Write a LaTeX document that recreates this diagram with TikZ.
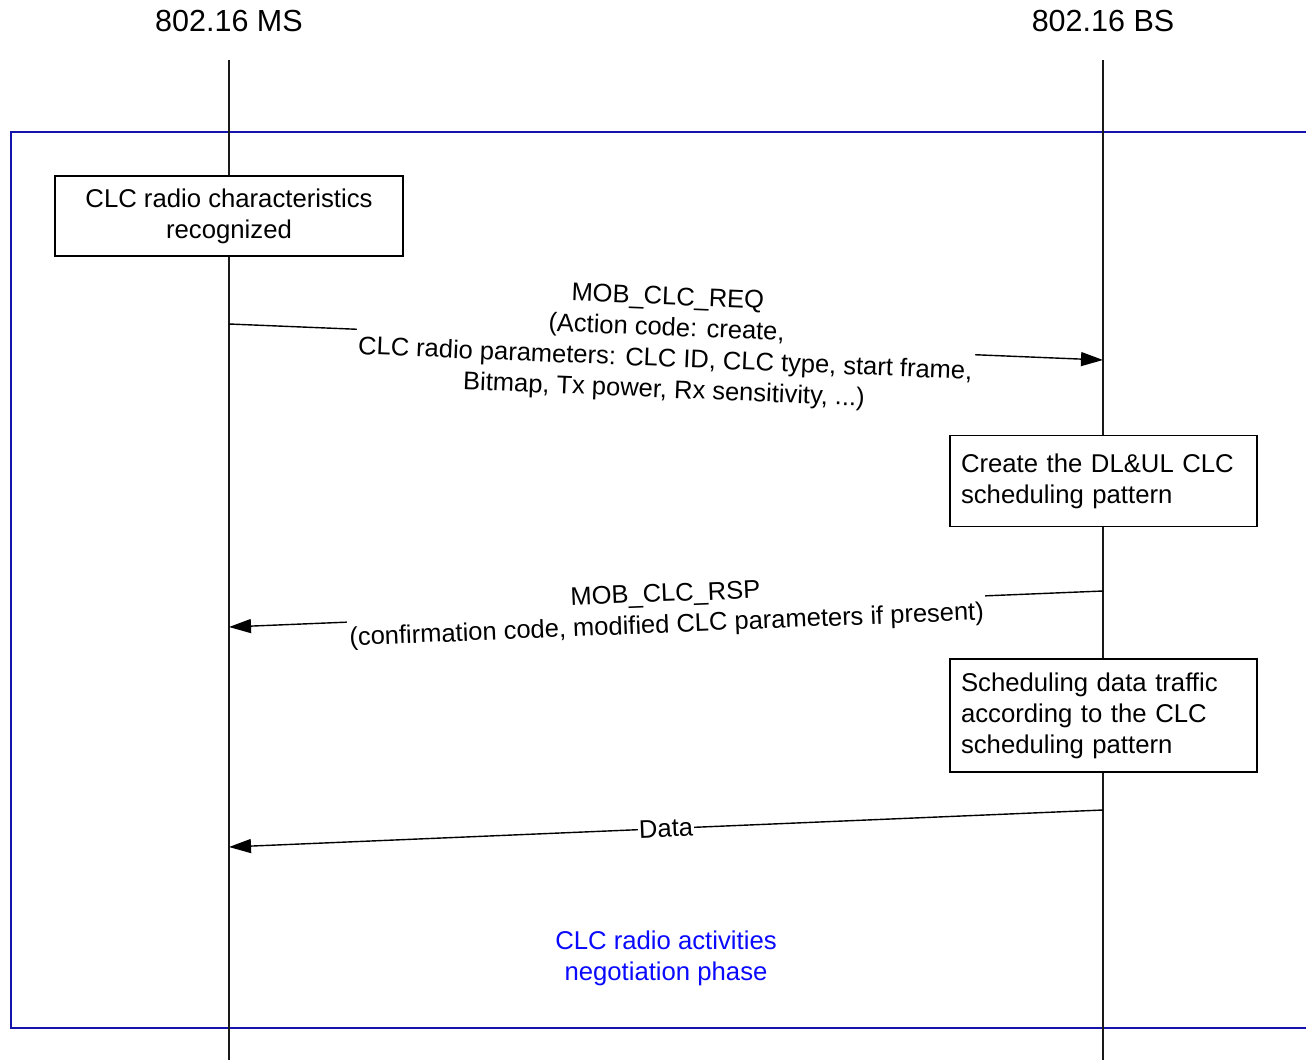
\documentclass[tikz,border=0pt]{standalone}
\usepackage{fontspec}
\setmainfont{Liberation Sans}
\usetikzlibrary{arrows.meta}
\definecolor{framec}{RGB}{20,20,170}
\definecolor{phasec}{RGB}{10,10,255}
\begin{document}
\begin{tikzpicture}[x=1pt,y=-1pt,
  lifeline/.style={line width=1.8pt,black!90},
  msgline/.style={line width=1.4pt,-{Triangle[length=22pt,width=14pt]}},
  msglabel/.style={fill=white,sloped,align=center,inner xsep=2pt,inner ysep=1pt,font=\fontsize{25.5}{31}\selectfont},
  procbox/.style={draw,line width=1.4pt,align=left,inner xsep=11pt,inner ysep=0pt,font=\fontsize{25.7}{31}\selectfont},
  title/.style={font=\fontsize{30.5}{34}\selectfont}]
\useasboundingbox[fill=white] (0,0) rectangle (1306,1060);
% frame
\draw[framec,line width=1.8pt] (1306,132) -- (11,132) -- (11,1028) -- (1306,1028);
% titles
\node[title] (ms) at (229,21) {802.16 MS};
\node[title] (bs) at (1103,21) {802.16 BS};
% lifelines
\coordinate (mstop) at (229,60);
\coordinate (msbot) at (229,1060);
\coordinate (bstop) at (1103,60);
\coordinate (bsbot) at (1103,1060);
\draw[lifeline] (mstop) -- (msbot);
\draw[lifeline] (bstop) -- (bsbot);
% boxes
\node[procbox,align=center,minimum width=348pt,minimum height=80pt,fill=white] (clcrec) at (229,216)
  {CLC radio characteristics\\recognized};
\node[procbox,text width=285pt,minimum height=91pt,fill=white] (create) at (1103.5,481)
  {Create the DL\&UL CLC\\scheduling pattern};
\node[procbox,text width=285pt,minimum height=113pt,fill=white] (sched) at (1103.5,715.5)
  {Scheduling data traffic\\according to the CLC\\scheduling pattern};
% messages
\coordinate (reqs) at (229,324);
\coordinate (reqe) at (1103,360);
\coordinate (rsps) at (1103,591);
\coordinate (rspe) at (229,627);
\coordinate (dats) at (1103,810);
\coordinate (date) at (229,847);
\draw[msgline] (reqs) -- node[msglabel,yshift=-3pt] (reqlab)
  {MOB\_CLC\_REQ\\(Action code: create,\\CLC radio parameters: CLC ID, CLC type, start frame,\\Bitmap, Tx power, Rx sensitivity, ...)} (reqe);
\draw[msgline] (rsps) -- node[msglabel,yshift=-2pt] (rsplab)
  {MOB\_CLC\_RSP\\(confirmation code, modified CLC parameters if present)} (rspe);
\draw[msgline] (dats) -- node[msglabel,inner xsep=1pt] (datlab) {Data} (date);
% phase label
\node[align=center,text=phasec,font=\fontsize{25.7}{31}\selectfont] (phase) at (666,958)
  {CLC radio activities\\negotiation phase};
\end{tikzpicture}
\end{document}
